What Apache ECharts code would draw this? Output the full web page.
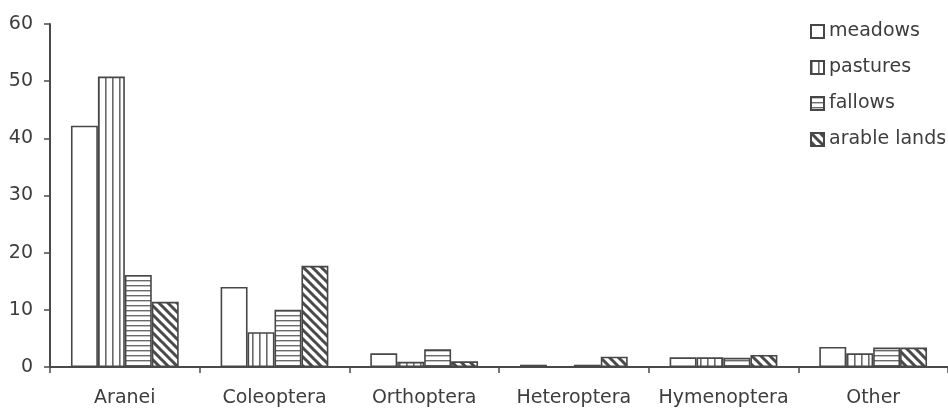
<!DOCTYPE html>
<html>
<head>
<meta charset="utf-8">
<script src="https://cdn.jsdelivr.net/npm/echarts@6/dist/echarts.min.js"></script>
<style>
html,body{margin:0;padding:0;background:#fff;}
#chart{width:948px;height:410px;}
</style>
</head>
<body>
<div id="chart"></div>
<script>
var categories = ['Aranei', 'Coleoptera', 'Orthoptera', 'Heteroptera', 'Hymenoptera', 'Other'];
var meadows = [42.2, 14.0, 2.4, 0.4, 1.7, 3.5];
var pastures = [50.8, 6.1, 0.9, 0, 1.7, 2.4];
var fallows = [16.1, 10.0, 3.1, 0.4, 1.6, 3.4];
var arableLands = [11.4, 17.7, 1.0, 1.8, 2.1, 3.4];
var yTicks = [0, 10, 20, 30, 40, 50, 60];

function makePattern(kind) {
  var c = document.createElement('canvas');
  var ctx = c.getContext('2d');
  if (kind === 'v') {
    c.width = 7; c.height = 7;
    ctx.fillStyle = '#fff'; ctx.fillRect(0, 0, 7, 7);
    ctx.fillStyle = '#6a6a6a'; ctx.fillRect(0, 0, 1.6, 7);
  } else if (kind === 'h') {
    c.width = 5; c.height = 5;
    ctx.fillStyle = '#fff'; ctx.fillRect(0, 0, 5, 5);
    ctx.fillStyle = '#6a6a6a'; ctx.fillRect(0, 0, 5, 1.4);
  } else if (kind === 'd') {
    var s = 9;
    c.width = s; c.height = s;
    ctx.fillStyle = '#fff'; ctx.fillRect(0, 0, s, s);
    ctx.strokeStyle = '#4a4a4a'; ctx.lineWidth = 3;
    ctx.beginPath();
    ctx.moveTo(-2, -2); ctx.lineTo(s + 2, s + 2);
    ctx.moveTo(-2 - s, -2); ctx.lineTo(2, s + 2);
    ctx.moveTo(s - 2, -2); ctx.lineTo(2 * s + 2, s + 2);
    ctx.stroke();
  }
  return { image: c, repeat: 'repeat' };
}

var border = '#474747';
var chart = echarts.init(document.getElementById('chart'), null, { renderer: 'canvas' });
var fontFam = '"DejaVu Sans", sans-serif';
var txtColor = '#3d3d3d';

function mkSeries(name, data, color) {
  return {
    name: name,
    type: 'bar',
    data: data,
    barGap: '0%',
    barCategoryGap: '28%',
    itemStyle: { color: color, borderColor: border, borderWidth: 1.6 },
    emphasis: { disabled: true }
  };
}

chart.setOption({
  animation: false,
  backgroundColor: '#fff',
  grid: { left: 50, right: -8, top: 24, bottom: 43, containLabel: false },
  legend: {
    orient: 'vertical',
    left: 805,
    top: 17,
    itemWidth: 13,
    itemHeight: 13,
    itemGap: 17,
    icon: 'rect',
    textStyle: { fontFamily: fontFam, fontSize: 19, color: txtColor },
    data: ['meadows', 'pastures', 'fallows', 'arable lands']
  },
  xAxis: {
    type: 'category',
    data: categories,
    axisLine: { lineStyle: { color: '#4a4a4a', width: 2 } },
    axisTick: { show: true, interval: 0, length: 6, lineStyle: { color: '#4a4a4a', width: 1.5 } },
    axisLabel: { interval: 0, fontFamily: fontFam, fontSize: 19, color: txtColor, margin: 22 }
  },
  yAxis: {
    type: 'value',
    min: yTicks[0],
    max: yTicks[yTicks.length - 1],
    interval: 10,
    axisLine: { show: true, lineStyle: { color: '#4a4a4a', width: 2 } },
    axisTick: { show: true, length: 6, lineStyle: { color: '#4a4a4a', width: 1.5 } },
    splitLine: { show: false },
    axisLabel: { fontFamily: fontFam, fontSize: 19, color: txtColor, margin: 17, padding: [6, 0, 0, 0] }
  },
  series: [
    mkSeries('meadows', meadows, '#ffffff'),
    mkSeries('pastures', pastures, makePattern('v')),
    mkSeries('fallows', fallows, makePattern('h')),
    mkSeries('arable lands', arableLands, makePattern('d'))
  ]
});
</script>
</body>
</html>
